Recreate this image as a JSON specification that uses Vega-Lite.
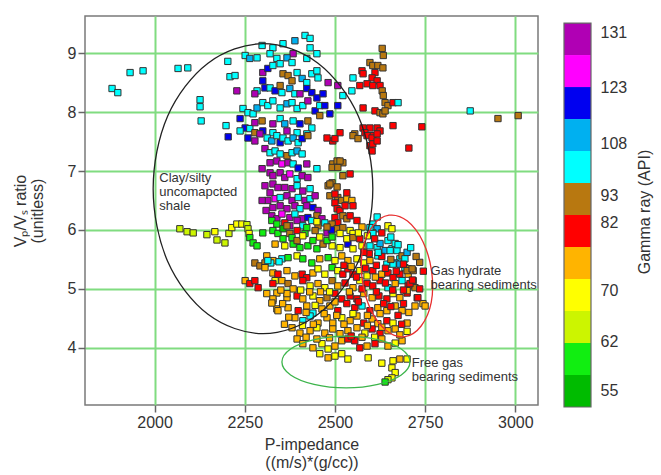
{
"$schema": "https://vega.github.io/schema/vega-lite/v6.json",
"background": "white",
"padding": {"left": 11, "top": 15, "right": 2, "bottom": 2},
"spacing": 24,
"config": {
 "font": "Liberation Sans",
 "view": {"stroke": "#7a7a7a", "strokeWidth": 1.5},
 "axis": {"labelFont": "Liberation Sans", "titleFont": "Liberation Sans", "labelFontSize": 16, "titleFontSize": 16, "titleFontWeight": "normal", "labelColor": "#333333", "titleColor": "#333333", "domain": false, "tickColor": "#666666", "tickWidth": 1.5, "gridColor": "#80dc80", "gridWidth": 2, "gridOpacity": 1}
},
"hconcat": [
{
 "width": 453, "height": 389,
 "encoding": {
  "x": {"field": "ip", "type": "quantitative", "scale": {"domain": [1807, 3063], "nice": false, "zero": false}, "axis": {"values": [2000, 2250, 2500, 2750, 3000], "format": "d", "grid": true, "tickSize": 7, "labelPadding": 2, "title": ["P-impedance", "((m/s)*(g/cc))"], "titlePadding": 6, "titleLineHeight": 18}},
  "y": {"field": "vr", "type": "quantitative", "scale": {"domain": [3.03, 9.63], "nice": false, "zero": false}, "axis": {"values": [4, 5, 6, 7, 8, 9], "format": "d", "grid": true, "tickSize": 7, "labelPadding": 2, "title": ["Vₚ/Vₛ ratio", "(unitless)"], "titlePadding": 22, "titleLineHeight": 17}}
 },
 "layer": [
  {
   "data": {"values": [
{"ip":1882,"vr":8.4,"gr":102},{"ip":1898,"vr":8.33,"gr":102},{"ip":1932,"vr":8.67,"gr":102},{"ip":1968,"vr":8.7,"gr":102},{"ip":2065,"vr":8.74,"gr":102},{"ip":2092,"vr":8.75,"gr":102},{"ip":2203,"vr":8.86,"gr":102},{"ip":2209,"vr":8.6,"gr":102},{"ip":2126,"vr":8.21,"gr":102},{"ip":2126,"vr":8.09,"gr":102},{"ip":2129,"vr":7.85,"gr":102},{"ip":2198,"vr":7.77,"gr":102},{"ip":2204,"vr":7.58,"gr":119},
{"ip":2417,"vr":9.3,"gr":102},{"ip":2431,"vr":9.25,"gr":102},{"ip":2389,"vr":9.21,"gr":111},{"ip":2356,"vr":9.16,"gr":102},{"ip":2328,"vr":9.09,"gr":102},{"ip":2298,"vr":9.13,"gr":102},{"ip":2431,"vr":9.09,"gr":102},{"ip":2384,"vr":8.99,"gr":131},{"ip":2450,"vr":8.99,"gr":102},{"ip":2251,"vr":8.96,"gr":102},{"ip":2264,"vr":8.91,"gr":111},{"ip":2284,"vr":8.92,"gr":102},{"ip":2320,"vr":8.99,"gr":102},{"ip":2339,"vr":8.91,"gr":102},{"ip":2367,"vr":8.92,"gr":111},{"ip":2381,"vr":8.84,"gr":102},{"ip":2422,"vr":8.91,"gr":102},{"ip":2223,"vr":8.62,"gr":102},{"ip":2228,"vr":8.36,"gr":131},
{"ip":2300,"vr":8.67,"gr":131},{"ip":2314,"vr":8.74,"gr":119},{"ip":2328,"vr":8.79,"gr":102},{"ip":2348,"vr":8.82,"gr":102},{"ip":2356,"vr":8.65,"gr":92},{"ip":2370,"vr":8.62,"gr":92},{"ip":2381,"vr":8.53,"gr":92},{"ip":2395,"vr":8.67,"gr":102},{"ip":2409,"vr":8.57,"gr":111},{"ip":2422,"vr":8.5,"gr":102},{"ip":2436,"vr":8.65,"gr":102},{"ip":2450,"vr":8.7,"gr":102},{"ip":2453,"vr":8.58,"gr":102},{"ip":2481,"vr":8.5,"gr":131},{"ip":2300,"vr":8.53,"gr":119},{"ip":2306,"vr":8.41,"gr":119},{"ip":2284,"vr":8.36,"gr":102},{"ip":2278,"vr":8.31,"gr":131},{"ip":2320,"vr":8.41,"gr":102},{"ip":2334,"vr":8.36,"gr":119},{"ip":2348,"vr":8.45,"gr":92},{"ip":2353,"vr":8.33,"gr":102},{"ip":2375,"vr":8.4,"gr":111},{"ip":2389,"vr":8.31,"gr":102},{"ip":2403,"vr":8.31,"gr":131},{"ip":2422,"vr":8.4,"gr":119},{"ip":2436,"vr":8.33,"gr":119},{"ip":2450,"vr":8.24,"gr":119},{"ip":2467,"vr":8.31,"gr":119},{"ip":2508,"vr":8.45,"gr":131},
{"ip":2245,"vr":8.06,"gr":102},{"ip":2259,"vr":7.99,"gr":102},{"ip":2237,"vr":7.89,"gr":119},{"ip":2251,"vr":7.73,"gr":119},{"ip":2273,"vr":7.97,"gr":102},{"ip":2284,"vr":8.07,"gr":111},{"ip":2300,"vr":8.16,"gr":102},{"ip":2314,"vr":8.11,"gr":102},{"ip":2328,"vr":8.19,"gr":102},{"ip":2348,"vr":8.07,"gr":102},{"ip":2367,"vr":8.14,"gr":111},{"ip":2381,"vr":8.16,"gr":102},{"ip":2395,"vr":8.06,"gr":102},{"ip":2411,"vr":8.11,"gr":102},{"ip":2425,"vr":8.19,"gr":131},{"ip":2445,"vr":8.02,"gr":119},{"ip":2458,"vr":8.11,"gr":102},{"ip":2486,"vr":7.97,"gr":119},{"ip":2472,"vr":8.11,"gr":119},{"ip":2508,"vr":8.11,"gr":119},{"ip":2522,"vr":8.28,"gr":102},
{"ip":2237,"vr":7.68,"gr":102},{"ip":2264,"vr":7.72,"gr":102},{"ip":2278,"vr":7.82,"gr":131},{"ip":2298,"vr":7.85,"gr":92},{"ip":2328,"vr":7.8,"gr":131},{"ip":2348,"vr":7.89,"gr":102},{"ip":2361,"vr":7.8,"gr":111},{"ip":2384,"vr":7.85,"gr":102},{"ip":2403,"vr":7.8,"gr":119},{"ip":2425,"vr":7.85,"gr":92},{"ip":2436,"vr":7.73,"gr":102},{"ip":2458,"vr":7.94,"gr":92},{"ip":2300,"vr":7.68,"gr":119},{"ip":2328,"vr":7.65,"gr":102},{"ip":2367,"vr":7.68,"gr":131},{"ip":2395,"vr":7.65,"gr":102},{"ip":2422,"vr":7.63,"gr":102},{"ip":2259,"vr":7.56,"gr":119},
{"ip":2631,"vr":9.08,"gr":92},{"ip":2634,"vr":8.96,"gr":92},{"ip":2597,"vr":8.84,"gr":92},{"ip":2605,"vr":8.79,"gr":92},{"ip":2619,"vr":8.79,"gr":92},{"ip":2633,"vr":8.75,"gr":92},{"ip":2575,"vr":8.7,"gr":82},{"ip":2578,"vr":8.65,"gr":82},{"ip":2611,"vr":8.67,"gr":82},{"ip":2603,"vr":8.58,"gr":82},{"ip":2617,"vr":8.53,"gr":82},{"ip":2589,"vr":8.48,"gr":82},{"ip":2605,"vr":8.45,"gr":82},{"ip":2625,"vr":8.45,"gr":82},{"ip":2569,"vr":8.45,"gr":82},{"ip":2631,"vr":8.36,"gr":92},{"ip":2634,"vr":8.28,"gr":92},{"ip":2550,"vr":8.58,"gr":102},{"ip":2547,"vr":8.36,"gr":102},{"ip":2578,"vr":8.07,"gr":82},{"ip":2611,"vr":8.02,"gr":82},{"ip":2625,"vr":7.99,"gr":92},{"ip":2639,"vr":8.16,"gr":92},{"ip":2647,"vr":8.11,"gr":92},{"ip":2661,"vr":8.16,"gr":82},{"ip":2675,"vr":8.16,"gr":102},{"ip":2633,"vr":7.97,"gr":92},{"ip":2639,"vr":8.02,"gr":92},{"ip":2661,"vr":7.77,"gr":82},{"ip":2741,"vr":7.75,"gr":82},
{"ip":2578,"vr":7.73,"gr":82},{"ip":2597,"vr":7.73,"gr":82},{"ip":2617,"vr":7.73,"gr":82},{"ip":2625,"vr":7.68,"gr":82},{"ip":2583,"vr":7.65,"gr":82},{"ip":2605,"vr":7.6,"gr":82},{"ip":2555,"vr":7.63,"gr":92},{"ip":2875,"vr":8.02,"gr":102},{"ip":2952,"vr":7.89,"gr":92},{"ip":3008,"vr":7.94,"gr":92},{"ip":2705,"vr":7.39,"gr":82},{"ip":2550,"vr":7.6,"gr":92},{"ip":2564,"vr":7.55,"gr":92},{"ip":2589,"vr":7.6,"gr":82},{"ip":2603,"vr":7.56,"gr":82},{"ip":2617,"vr":7.63,"gr":82},{"ip":2597,"vr":7.43,"gr":82},{"ip":2605,"vr":7.46,"gr":82},{"ip":2617,"vr":7.51,"gr":82},{"ip":2603,"vr":7.34,"gr":82},{"ip":2494,"vr":7.51,"gr":82},{"ip":2500,"vr":7.55,"gr":82},
{"ip":2494,"vr":7.12,"gr":92},{"ip":2492,"vr":7.06,"gr":92},{"ip":2522,"vr":7.14,"gr":92},{"ip":2522,"vr":6.92,"gr":92},{"ip":2542,"vr":6.95,"gr":82},{"ip":2492,"vr":6.8,"gr":92},{"ip":2508,"vr":6.55,"gr":92},{"ip":2519,"vr":6.5,"gr":92},{"ip":2533,"vr":6.53,"gr":76},{"ip":2547,"vr":6.5,"gr":76},{"ip":2500,"vr":6.46,"gr":82},{"ip":2506,"vr":6.36,"gr":82},{"ip":2514,"vr":6.33,"gr":82},{"ip":2528,"vr":6.41,"gr":82},{"ip":2522,"vr":6.24,"gr":92},{"ip":2533,"vr":6.19,"gr":92},{"ip":2542,"vr":6.24,"gr":82},{"ip":2500,"vr":6.21,"gr":82},{"ip":2508,"vr":6.12,"gr":82},{"ip":2492,"vr":6.1,"gr":92},{"ip":2506,"vr":6.02,"gr":92},{"ip":2522,"vr":6.04,"gr":92},{"ip":2542,"vr":5.99,"gr":70},{"ip":2550,"vr":5.94,"gr":70},{"ip":2617,"vr":6.22,"gr":102},{"ip":2605,"vr":6.1,"gr":102},{"ip":2617,"vr":6.02,"gr":111},{"ip":2605,"vr":5.95,"gr":70},{"ip":2647,"vr":6.07,"gr":70},{"ip":2658,"vr":6.02,"gr":70},
{"ip":2478,"vr":7.56,"gr":82},{"ip":2514,"vr":7.65,"gr":82},{"ip":2506,"vr":7.17,"gr":92},{"ip":2508,"vr":7.06,"gr":92},{"ip":2481,"vr":6.75,"gr":92},{"ip":2486,"vr":6.58,"gr":92},{"ip":2514,"vr":7.17,"gr":92},{"ip":2486,"vr":6.78,"gr":92},{"ip":2506,"vr":6.73,"gr":92},{"ip":2500,"vr":6.61,"gr":82},{"ip":2533,"vr":6.63,"gr":82},{"ip":2550,"vr":6.41,"gr":82},
{"ip":2278,"vr":7.51,"gr":131},{"ip":2312,"vr":7.56,"gr":102},{"ip":2325,"vr":7.51,"gr":111},{"ip":2339,"vr":7.6,"gr":102},{"ip":2348,"vr":7.48,"gr":119},{"ip":2356,"vr":7.56,"gr":102},{"ip":2370,"vr":7.51,"gr":102},{"ip":2384,"vr":7.56,"gr":111},{"ip":2398,"vr":7.48,"gr":102},{"ip":2409,"vr":7.55,"gr":119},{"ip":2425,"vr":7.6,"gr":92},{"ip":2306,"vr":7.38,"gr":131},{"ip":2320,"vr":7.31,"gr":102},{"ip":2334,"vr":7.34,"gr":102},{"ip":2348,"vr":7.29,"gr":102},{"ip":2367,"vr":7.26,"gr":92},{"ip":2381,"vr":7.31,"gr":102},{"ip":2395,"vr":7.34,"gr":111},{"ip":2409,"vr":7.29,"gr":102},
{"ip":2320,"vr":7.14,"gr":131},{"ip":2339,"vr":7.17,"gr":131},{"ip":2353,"vr":7.12,"gr":125},{"ip":2370,"vr":7.14,"gr":131},{"ip":2384,"vr":7.12,"gr":102},{"ip":2398,"vr":7.05,"gr":119},{"ip":2422,"vr":7.12,"gr":131},{"ip":2450,"vr":7.04,"gr":102},{"ip":2320,"vr":6.97,"gr":131},{"ip":2328,"vr":6.92,"gr":131},{"ip":2348,"vr":6.97,"gr":131},{"ip":2361,"vr":6.89,"gr":131},{"ip":2375,"vr":6.95,"gr":125},{"ip":2395,"vr":6.87,"gr":102},{"ip":2409,"vr":6.92,"gr":131},{"ip":2425,"vr":6.89,"gr":131},
{"ip":2328,"vr":6.78,"gr":131},{"ip":2342,"vr":6.72,"gr":131},{"ip":2361,"vr":6.72,"gr":131},{"ip":2381,"vr":6.7,"gr":131},{"ip":2395,"vr":6.75,"gr":102},{"ip":2411,"vr":6.66,"gr":131},{"ip":2431,"vr":6.7,"gr":102},{"ip":2320,"vr":6.63,"gr":131},{"ip":2314,"vr":6.5,"gr":131},{"ip":2334,"vr":6.53,"gr":125},{"ip":2348,"vr":6.55,"gr":102},{"ip":2367,"vr":6.58,"gr":131},{"ip":2381,"vr":6.5,"gr":131},{"ip":2398,"vr":6.55,"gr":102},{"ip":2417,"vr":6.5,"gr":131},{"ip":2431,"vr":6.53,"gr":102},{"ip":2445,"vr":6.58,"gr":131},
{"ip":2328,"vr":6.38,"gr":131},{"ip":2348,"vr":6.41,"gr":131},{"ip":2367,"vr":6.36,"gr":131},{"ip":2389,"vr":6.41,"gr":131},{"ip":2403,"vr":6.36,"gr":102},{"ip":2422,"vr":6.41,"gr":131},{"ip":2439,"vr":6.38,"gr":119},{"ip":2453,"vr":6.33,"gr":131},{"ip":2325,"vr":6.24,"gr":131},{"ip":2339,"vr":6.19,"gr":131},{"ip":2353,"vr":6.27,"gr":125},{"ip":2375,"vr":6.21,"gr":131},{"ip":2389,"vr":6.27,"gr":102},{"ip":2409,"vr":6.19,"gr":131},{"ip":2425,"vr":6.21,"gr":119},{"ip":2450,"vr":6.24,"gr":92},{"ip":2464,"vr":6.19,"gr":131},
{"ip":2325,"vr":6.16,"gr":60},{"ip":2339,"vr":6.1,"gr":60},{"ip":2361,"vr":6.12,"gr":82},{"ip":2375,"vr":6.07,"gr":131},{"ip":2395,"vr":6.16,"gr":131},{"ip":2411,"vr":6.07,"gr":102},{"ip":2436,"vr":6.16,"gr":102},{"ip":2453,"vr":6.07,"gr":92},{"ip":2472,"vr":6.12,"gr":102},{"ip":2328,"vr":5.99,"gr":60},{"ip":2342,"vr":5.94,"gr":60},{"ip":2356,"vr":6.02,"gr":56},{"ip":2375,"vr":5.94,"gr":92},{"ip":2395,"vr":5.99,"gr":82},{"ip":2417,"vr":5.94,"gr":60},{"ip":2445,"vr":5.99,"gr":92},{"ip":2478,"vr":5.95,"gr":131},{"ip":2300,"vr":5.95,"gr":60},{"ip":2490,"vr":6.0,"gr":119},
{"ip":2278,"vr":7.65,"gr":92},{"ip":2292,"vr":7.63,"gr":131},{"ip":2298,"vr":7.04,"gr":131},{"ip":2306,"vr":6.75,"gr":131},{"ip":2298,"vr":6.5,"gr":131},{"ip":2309,"vr":6.33,"gr":131},
{"ip":2070,"vr":6.02,"gr":64},{"ip":2090,"vr":5.97,"gr":64},{"ip":2107,"vr":5.95,"gr":64},{"ip":2145,"vr":5.92,"gr":64},{"ip":2167,"vr":5.97,"gr":70},{"ip":2173,"vr":5.83,"gr":64},{"ip":2195,"vr":5.78,"gr":64},{"ip":2206,"vr":5.94,"gr":64},{"ip":2214,"vr":6.04,"gr":70},{"ip":2228,"vr":6.1,"gr":70},{"ip":2242,"vr":6.1,"gr":70},{"ip":2256,"vr":6.09,"gr":64},{"ip":2259,"vr":6.02,"gr":64},{"ip":2262,"vr":5.94,"gr":70},{"ip":2264,"vr":5.87,"gr":60},{"ip":2273,"vr":5.78,"gr":60},{"ip":2284,"vr":5.73,"gr":60},
{"ip":2334,"vr":5.76,"gr":76},{"ip":2361,"vr":5.73,"gr":70},{"ip":2384,"vr":5.76,"gr":60},{"ip":2403,"vr":5.7,"gr":60},{"ip":2425,"vr":5.73,"gr":60},{"ip":2450,"vr":5.68,"gr":60},{"ip":2467,"vr":5.76,"gr":92},{"ip":2492,"vr":5.73,"gr":70},{"ip":2514,"vr":5.7,"gr":70},{"ip":2536,"vr":5.76,"gr":119},{"ip":2550,"vr":5.68,"gr":70},{"ip":2575,"vr":5.73,"gr":70},{"ip":2597,"vr":5.73,"gr":102},{"ip":2617,"vr":5.7,"gr":102},{"ip":2639,"vr":5.65,"gr":111},{"ip":2658,"vr":5.68,"gr":102},{"ip":2680,"vr":5.51,"gr":102},
{"ip":2311,"vr":5.56,"gr":76},{"ip":2328,"vr":5.48,"gr":76},{"ip":2353,"vr":5.51,"gr":102},{"ip":2370,"vr":5.53,"gr":60},{"ip":2395,"vr":5.56,"gr":70},{"ip":2411,"vr":5.51,"gr":60},{"ip":2436,"vr":5.44,"gr":60},{"ip":2458,"vr":5.51,"gr":76},{"ip":2481,"vr":5.53,"gr":60},{"ip":2500,"vr":5.48,"gr":70},{"ip":2519,"vr":5.56,"gr":76},{"ip":2536,"vr":5.48,"gr":76},{"ip":2561,"vr":5.51,"gr":70},{"ip":2580,"vr":5.44,"gr":70},{"ip":2597,"vr":5.48,"gr":76},{"ip":2619,"vr":5.56,"gr":102},{"ip":2644,"vr":5.42,"gr":102},{"ip":2667,"vr":5.44,"gr":111},{"ip":2694,"vr":5.36,"gr":102},{"ip":2703,"vr":5.34,"gr":76},{"ip":2322,"vr":5.44,"gr":102},{"ip":2345,"vr":5.46,"gr":102},
{"ip":2356,"vr":5.85,"gr":60},{"ip":2381,"vr":5.87,"gr":60},{"ip":2395,"vr":5.82,"gr":92},{"ip":2411,"vr":5.9,"gr":70},{"ip":2439,"vr":5.82,"gr":60},{"ip":2458,"vr":5.88,"gr":70},{"ip":2478,"vr":5.82,"gr":60},{"ip":2492,"vr":5.88,"gr":60},{"ip":2514,"vr":5.94,"gr":70},{"ip":2533,"vr":5.85,"gr":70},{"ip":2550,"vr":5.87,"gr":92},{"ip":2569,"vr":5.85,"gr":82},{"ip":2367,"vr":6.07,"gr":92},{"ip":2422,"vr":6.04,"gr":60},{"ip":2450,"vr":6.14,"gr":70},{"ip":2478,"vr":6.05,"gr":92},{"ip":2561,"vr":6.16,"gr":82},{"ip":2575,"vr":6.05,"gr":76},
{"ip":2278,"vr":5.44,"gr":92},{"ip":2292,"vr":5.39,"gr":92},{"ip":2306,"vr":5.44,"gr":92},{"ip":2314,"vr":5.48,"gr":102},{"ip":2251,"vr":5.14,"gr":76},{"ip":2264,"vr":5.09,"gr":82},{"ip":2278,"vr":5.14,"gr":82},{"ip":2287,"vr":5.02,"gr":82},{"ip":2334,"vr":5.14,"gr":70},{"ip":2339,"vr":4.93,"gr":76},{"ip":2328,"vr":4.8,"gr":76},{"ip":2339,"vr":4.66,"gr":76},{"ip":2367,"vr":4.85,"gr":76},
{"ip":2306,"vr":5.36,"gr":76},{"ip":2328,"vr":5.27,"gr":76},{"ip":2342,"vr":5.25,"gr":82},{"ip":2367,"vr":5.31,"gr":76},{"ip":2389,"vr":5.22,"gr":76},{"ip":2409,"vr":5.25,"gr":82},{"ip":2422,"vr":5.19,"gr":82},{"ip":2439,"vr":5.27,"gr":76},{"ip":2453,"vr":5.34,"gr":70},{"ip":2472,"vr":5.25,"gr":70},{"ip":2492,"vr":5.36,"gr":60},{"ip":2508,"vr":5.31,"gr":70},{"ip":2522,"vr":5.25,"gr":82},{"ip":2536,"vr":5.34,"gr":82},{"ip":2550,"vr":5.25,"gr":82},{"ip":2569,"vr":5.31,"gr":70},{"ip":2589,"vr":5.22,"gr":70},{"ip":2605,"vr":5.31,"gr":82},{"ip":2630,"vr":5.25,"gr":76},{"ip":2647,"vr":5.27,"gr":82},{"ip":2661,"vr":5.19,"gr":82},{"ip":2680,"vr":5.25,"gr":82},{"ip":2703,"vr":5.25,"gr":76},{"ip":2717,"vr":5.31,"gr":92},
{"ip":2328,"vr":5.09,"gr":82},{"ip":2353,"vr":5.14,"gr":76},{"ip":2370,"vr":5.09,"gr":92},{"ip":2384,"vr":5.0,"gr":76},{"ip":2411,"vr":5.14,"gr":82},{"ip":2431,"vr":5.05,"gr":70},{"ip":2453,"vr":5.09,"gr":76},{"ip":2472,"vr":5.02,"gr":70},{"ip":2492,"vr":5.14,"gr":92},{"ip":2508,"vr":5.05,"gr":76},{"ip":2528,"vr":5.1,"gr":82},{"ip":2550,"vr":5.02,"gr":76},{"ip":2569,"vr":5.14,"gr":70},{"ip":2589,"vr":5.09,"gr":82},{"ip":2605,"vr":5.05,"gr":82},{"ip":2625,"vr":5.14,"gr":82},{"ip":2647,"vr":5.02,"gr":102},{"ip":2667,"vr":5.09,"gr":76},{"ip":2686,"vr":5.14,"gr":102},{"ip":2703,"vr":5.05,"gr":82},{"ip":2722,"vr":5.02,"gr":92},
{"ip":2311,"vr":4.92,"gr":76},{"ip":2328,"vr":4.83,"gr":76},{"ip":2367,"vr":4.92,"gr":76},{"ip":2395,"vr":4.88,"gr":82},{"ip":2411,"vr":4.83,"gr":76},{"ip":2439,"vr":4.88,"gr":70},{"ip":2458,"vr":4.8,"gr":76},{"ip":2478,"vr":4.85,"gr":92},{"ip":2500,"vr":4.92,"gr":82},{"ip":2519,"vr":4.83,"gr":82},{"ip":2542,"vr":4.88,"gr":82},{"ip":2561,"vr":4.83,"gr":82},{"ip":2580,"vr":4.92,"gr":76},{"ip":2603,"vr":4.85,"gr":76},{"ip":2622,"vr":4.88,"gr":82},{"ip":2644,"vr":4.83,"gr":82},{"ip":2661,"vr":4.92,"gr":70},{"ip":2680,"vr":4.85,"gr":76},{"ip":2700,"vr":4.93,"gr":82},{"ip":2728,"vr":4.85,"gr":82},{"ip":2744,"vr":4.75,"gr":76},
{"ip":2325,"vr":4.76,"gr":76},{"ip":2342,"vr":4.63,"gr":76},{"ip":2370,"vr":4.68,"gr":76},{"ip":2398,"vr":4.63,"gr":82},{"ip":2422,"vr":4.71,"gr":76},{"ip":2439,"vr":4.59,"gr":102},{"ip":2464,"vr":4.66,"gr":76},{"ip":2486,"vr":4.71,"gr":76},{"ip":2508,"vr":4.63,"gr":82},{"ip":2533,"vr":4.75,"gr":82},{"ip":2555,"vr":4.68,"gr":82},{"ip":2575,"vr":4.71,"gr":102},{"ip":2597,"vr":4.63,"gr":82},{"ip":2619,"vr":4.68,"gr":76},{"ip":2644,"vr":4.63,"gr":76},{"ip":2667,"vr":4.71,"gr":76},{"ip":2686,"vr":4.63,"gr":76},{"ip":2722,"vr":4.71,"gr":76},{"ip":2750,"vr":4.71,"gr":76},
{"ip":2389,"vr":4.51,"gr":76},{"ip":2411,"vr":4.46,"gr":102},{"ip":2431,"vr":4.54,"gr":102},{"ip":2453,"vr":4.42,"gr":76},{"ip":2478,"vr":4.51,"gr":76},{"ip":2494,"vr":4.42,"gr":76},{"ip":2519,"vr":4.51,"gr":70},{"ip":2542,"vr":4.46,"gr":76},{"ip":2561,"vr":4.54,"gr":76},{"ip":2580,"vr":4.42,"gr":82},{"ip":2603,"vr":4.49,"gr":76},{"ip":2619,"vr":4.41,"gr":76},{"ip":2644,"vr":4.46,"gr":82},{"ip":2661,"vr":4.42,"gr":70},
{"ip":2381,"vr":4.34,"gr":76},{"ip":2403,"vr":4.25,"gr":76},{"ip":2431,"vr":4.29,"gr":76},{"ip":2450,"vr":4.34,"gr":70},{"ip":2472,"vr":4.25,"gr":76},{"ip":2494,"vr":4.32,"gr":76},{"ip":2514,"vr":4.24,"gr":76},{"ip":2536,"vr":4.29,"gr":76},{"ip":2561,"vr":4.34,"gr":76},{"ip":2583,"vr":4.25,"gr":70},{"ip":2603,"vr":4.32,"gr":82},{"ip":2625,"vr":4.24,"gr":82},{"ip":2647,"vr":4.29,"gr":76},{"ip":2667,"vr":4.32,"gr":76},
{"ip":2395,"vr":4.15,"gr":76},{"ip":2411,"vr":4.07,"gr":76},{"ip":2439,"vr":4.0,"gr":76},{"ip":2464,"vr":4.07,"gr":70},{"ip":2481,"vr":3.98,"gr":70},{"ip":2500,"vr":4.03,"gr":76},{"ip":2519,"vr":4.12,"gr":76},{"ip":2536,"vr":4.15,"gr":82},{"ip":2555,"vr":4.12,"gr":82},{"ip":2569,"vr":4.0,"gr":82},{"ip":2589,"vr":4.03,"gr":76},{"ip":2611,"vr":4.07,"gr":82},{"ip":2630,"vr":4.15,"gr":76},{"ip":2647,"vr":4.03,"gr":76},{"ip":2667,"vr":4.08,"gr":70},{"ip":2686,"vr":4.12,"gr":76},
{"ip":2458,"vr":3.9,"gr":70},{"ip":2481,"vr":3.83,"gr":76},{"ip":2500,"vr":3.86,"gr":70},{"ip":2519,"vr":3.9,"gr":70},{"ip":2536,"vr":3.81,"gr":70},{"ip":2592,"vr":3.83,"gr":70},{"ip":2630,"vr":3.74,"gr":70},{"ip":2661,"vr":3.78,"gr":70},{"ip":2680,"vr":3.81,"gr":76},{"ip":2700,"vr":3.81,"gr":70},{"ip":2658,"vr":3.66,"gr":70},{"ip":2667,"vr":3.58,"gr":70},{"ip":2658,"vr":3.49,"gr":70},{"ip":2647,"vr":3.46,"gr":64},{"ip":2639,"vr":3.42,"gr":60},
{"ip":2597,"vr":6.04,"gr":102},{"ip":2605,"vr":5.94,"gr":102},{"ip":2625,"vr":5.77,"gr":111},{"ip":2653,"vr":5.65,"gr":102},{"ip":2672,"vr":5.65,"gr":102},{"ip":2661,"vr":5.42,"gr":102},{"ip":2680,"vr":5.42,"gr":111},{"ip":2700,"vr":5.31,"gr":92},{"ip":2714,"vr":5.34,"gr":92},{"ip":2717,"vr":5.14,"gr":92},{"ip":2708,"vr":5.09,"gr":82},{"ip":2700,"vr":4.97,"gr":76},{"ip":2730,"vr":4.85,"gr":82},{"ip":2647,"vr":5.82,"gr":102},{"ip":2667,"vr":5.77,"gr":102},{"ip":2686,"vr":5.56,"gr":92},{"ip":2694,"vr":5.51,"gr":102},
{"ip":2525,"vr":5.4,"gr":82},{"ip":2545,"vr":5.38,"gr":76},{"ip":2560,"vr":5.2,"gr":82},{"ip":2585,"vr":5.35,"gr":82},{"ip":2615,"vr":5.4,"gr":82},{"ip":2630,"vr":5.55,"gr":82},{"ip":2655,"vr":5.5,"gr":92},{"ip":2612,"vr":5.2,"gr":76},{"ip":2640,"vr":5.1,"gr":82},{"ip":2660,"vr":4.98,"gr":82},{"ip":2690,"vr":4.98,"gr":82},{"ip":2615,"vr":4.95,"gr":82},{"ip":2575,"vr":5.0,"gr":82},{"ip":2540,"vr":4.95,"gr":76},{"ip":2485,"vr":4.95,"gr":70},{"ip":2460,"vr":4.95,"gr":76},{"ip":2430,"vr":4.95,"gr":76},{"ip":2405,"vr":4.98,"gr":70},{"ip":2350,"vr":4.98,"gr":76},{"ip":2355,"vr":4.75,"gr":76},{"ip":2445,"vr":4.72,"gr":70},{"ip":2500,"vr":4.78,"gr":76},{"ip":2565,"vr":4.78,"gr":82},{"ip":2635,"vr":4.75,"gr":82},
{"ip":2655,"vr":4.7,"gr":82},{"ip":2690,"vr":4.75,"gr":82},{"ip":2705,"vr":4.6,"gr":76},{"ip":2675,"vr":4.55,"gr":82},{"ip":2625,"vr":4.58,"gr":76},{"ip":2590,"vr":4.55,"gr":76},{"ip":2550,"vr":4.58,"gr":70},{"ip":2505,"vr":4.55,"gr":76},{"ip":2470,"vr":4.58,"gr":76},{"ip":2420,"vr":4.6,"gr":76},{"ip":2372,"vr":4.52,"gr":76},{"ip":2360,"vr":4.4,"gr":76},{"ip":2410,"vr":4.38,"gr":70},{"ip":2440,"vr":4.4,"gr":76},{"ip":2525,"vr":4.4,"gr":76},{"ip":2590,"vr":4.38,"gr":76},{"ip":2630,"vr":4.35,"gr":76},{"ip":2680,"vr":4.22,"gr":76},{"ip":2700,"vr":4.28,"gr":70},{"ip":2610,"vr":4.18,"gr":70},{"ip":2575,"vr":4.18,"gr":76},{"ip":2545,"vr":4.2,"gr":82},{"ip":2485,"vr":4.17,"gr":76},{"ip":2450,"vr":4.15,"gr":76},{"ip":2420,"vr":4.18,"gr":76},
{"ip":2700,"vr":4.42,"gr":76},{"ip":2685,"vr":4.4,"gr":82},{"ip":2715,"vr":5.15,"gr":82},{"ip":2735,"vr":5.0,"gr":82},{"ip":2690,"vr":5.42,"gr":82},{"ip":2670,"vr":5.3,"gr":82},{"ip":2640,"vr":5.35,"gr":82},{"ip":2595,"vr":5.6,"gr":82},{"ip":2580,"vr":5.62,"gr":82},{"ip":2620,"vr":5.62,"gr":102},{"ip":2610,"vr":5.85,"gr":82},{"ip":2590,"vr":5.9,"gr":70},{"ip":2565,"vr":5.95,"gr":70},{"ip":2630,"vr":5.95,"gr":82},{"ip":2655,"vr":5.88,"gr":102},{"ip":2675,"vr":5.75,"gr":102},{"ip":2700,"vr":5.62,"gr":111},{"ip":2710,"vr":5.7,"gr":102},{"ip":2735,"vr":5.45,"gr":92},{"ip":2725,"vr":5.55,"gr":92},{"ip":2745,"vr":5.3,"gr":82}
   ]},
   "mark": {"type": "square", "filled": true, "size": 40, "stroke": "#333333", "strokeWidth": 1, "opacity": 1},
   "encoding": {"color": {"field": "gr", "type": "quantitative", "scale": {"type": "threshold", "domain": [58, 62, 67, 73, 79, 86, 97, 108, 115, 123, 128], "range": ["#00bb00", "#11ee11", "#ccf500", "#ffff00", "#ffb400", "#ff0000", "#b87810", "#00ffff", "#00b0f0", "#0000f0", "#ff00ff", "#b000b4"]}, "legend": null}}
  },
  {
   "data": {"values": [
    {"ip":2605,"vr":6.7,"k":0},{"ip":2565,"vr":7.93,"k":1},{"ip":2453,"vr":8.83,"k":2},{"ip":2301,"vr":9.16,"k":3},{"ip":2148,"vr":8.83,"k":4},{"ip":2036,"vr":7.93,"k":5},{"ip":1996,"vr":6.7,"k":6},{"ip":2036,"vr":5.47,"k":7},{"ip":2148,"vr":4.57,"k":8},{"ip":2301,"vr":4.24,"k":9},{"ip":2453,"vr":4.57,"k":10},{"ip":2565,"vr":5.47,"k":11}
   ]},
   "mark": {"type": "line", "interpolate": "cardinal-closed", "color": "#222222", "strokeWidth": 1.3},
   "encoding": {"order": {"field": "k", "type": "quantitative"}}
  },
  {
   "data": {"values": [
    {"ip":2768,"vr":5.3,"k":0},{"ip":2767,"vr":4.77,"k":1},{"ip":2739,"vr":4.37,"k":2},{"ip":2694,"vr":4.19,"k":3},{"ip":2643,"vr":4.29,"k":4},{"ip":2600,"vr":4.64,"k":5},{"ip":2576,"vr":5.14,"k":6},{"ip":2577,"vr":5.67,"k":7},{"ip":2605,"vr":6.07,"k":8},{"ip":2650,"vr":6.25,"k":9},{"ip":2701,"vr":6.15,"k":10},{"ip":2744,"vr":5.8,"k":11}
   ]},
   "mark": {"type": "line", "interpolate": "cardinal-closed", "color": "#e83030", "strokeWidth": 1.3},
   "encoding": {"order": {"field": "k", "type": "quantitative"}}
  },
  {
   "data": {"values": [
    {"ip":2708,"vr":3.76,"k":0},{"ip":2684,"vr":3.98,"k":1},{"ip":2619,"vr":4.14,"k":2},{"ip":2531,"vr":4.2,"k":3},{"ip":2442,"vr":4.14,"k":4},{"ip":2377,"vr":3.98,"k":5},{"ip":2353,"vr":3.76,"k":6},{"ip":2377,"vr":3.54,"k":7},{"ip":2442,"vr":3.38,"k":8},{"ip":2531,"vr":3.32,"k":9},{"ip":2619,"vr":3.38,"k":10},{"ip":2684,"vr":3.54,"k":11}
   ]},
   "mark": {"type": "line", "interpolate": "cardinal-closed", "color": "#3cb44b", "strokeWidth": 1.3},
   "encoding": {"order": {"field": "k", "type": "quantitative"}}
  },
  {
   "data": {"values": [
    {"ip": 2013, "vr": 6.99, "t": "Clay/silty\nuncomapcted\nshale"},
    {"ip": 2765, "vr": 5.40, "t": "Gas hydrate\nbearing sediments"},
    {"ip": 2713, "vr": 3.85, "t": "Free gas\nbearing sediments"}
   ]},
   "mark": {"type": "text", "align": "left", "baseline": "top", "fontSize": 13, "lineHeight": 14, "lineBreak": "\n", "color": "#333333", "font": "Liberation Sans"},
   "encoding": {"text": {"field": "t", "type": "nominal"}}
  }
 ]
},
{
 "width": 27, "height": 391,
 "view": {"stroke": null},
 "layer": [
  {
   "data": {"values": [
    {"b0":0,"b1":1,"gr":56},{"b0":1,"b1":2,"gr":60},{"b0":2,"b1":3,"gr":64},{"b0":3,"b1":4,"gr":70},{"b0":4,"b1":5,"gr":76},{"b0":5,"b1":6,"gr":82},{"b0":6,"b1":7,"gr":92},{"b0":7,"b1":8,"gr":102},{"b0":8,"b1":9,"gr":111},{"b0":9,"b1":10,"gr":119},{"b0":10,"b1":11,"gr":125},{"b0":11,"b1":12,"gr":131}
   ]},
   "mark": {"type": "rect"},
   "encoding": {
    "y": {"field": "b0", "type": "quantitative", "scale": {"domain": [0, 12.22], "nice": false, "zero": false}, "axis": {"orient": "right", "values": [0.51, 2.04, 3.63, 5.77, 6.6, 8.25, 10.0, 11.69], "labelExpr": "datum.value < 1 ? '55' : datum.value < 2.5 ? '62' : datum.value < 4 ? '70' : datum.value < 6 ? '82' : datum.value < 7 ? '93' : datum.value < 9 ? '108' : datum.value < 11 ? '123' : '131'", "ticks": false, "grid": false, "labelPadding": 9, "labelOverlap": false, "labelFlush": false, "title": "Gamma ray (API)", "titleAngle": 270, "titleBaseline": "top", "titlePadding": 10}},
    "y2": {"field": "b1"},
    "color": {"field": "gr", "type": "quantitative", "scale": {"type": "threshold", "domain": [58, 62, 67, 73, 79, 86, 97, 108, 115, 123, 128], "range": ["#00bb00", "#11ee11", "#ccf500", "#ffff00", "#ffb400", "#ff0000", "#b87810", "#00ffff", "#00b0f0", "#0000f0", "#ff00ff", "#b000b4"]}, "legend": null}
   }
  },
  {
   "data": {"values": [{"b0": 0, "b1": 12}]},
   "mark": {"type": "rect", "filled": false, "stroke": "#666666", "strokeWidth": 1.2},
   "encoding": {"y": {"field": "b0", "type": "quantitative"}, "y2": {"field": "b1"}}
  }
 ]
}
]
}
